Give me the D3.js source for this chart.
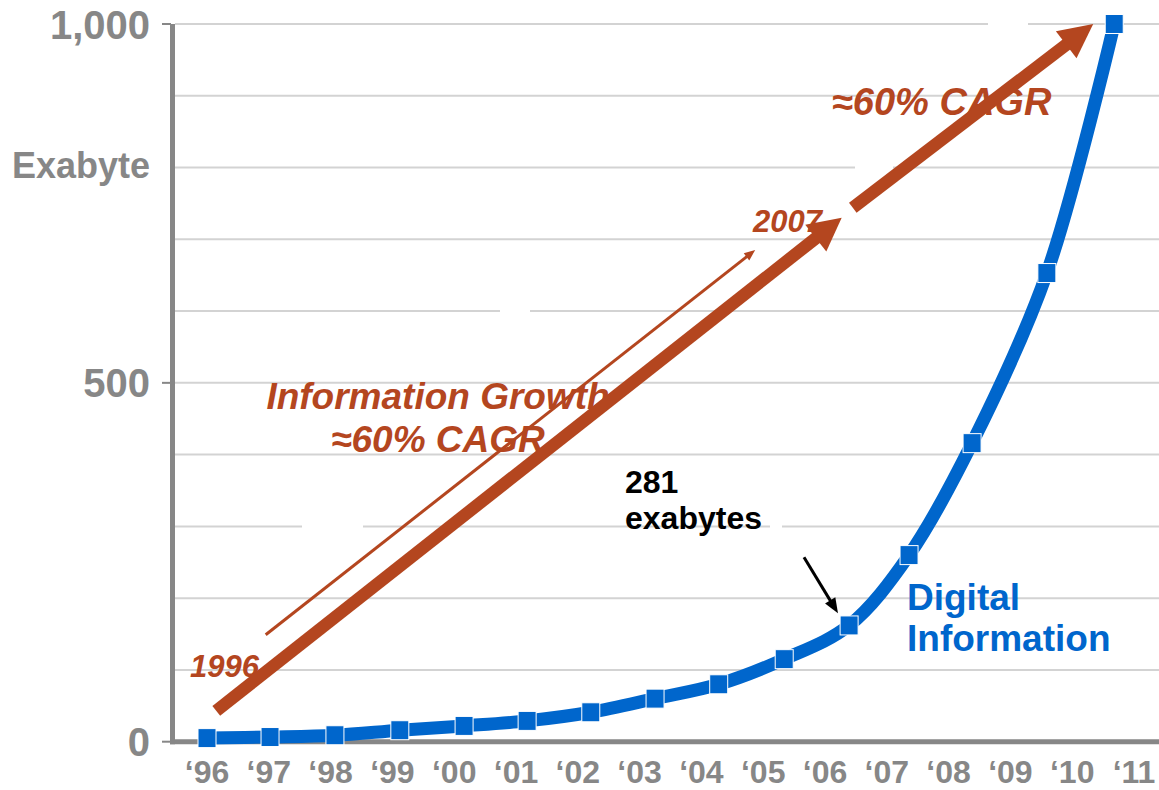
<!DOCTYPE html>
<html>
<head>
<meta charset="utf-8">
<script src="https://cdn.jsdelivr.net/npm/d3@7"></script>
<style>
  html, body { margin: 0; padding: 0; background: #fff; }
  svg { display: block; font-family: "Liberation Sans", Arial, sans-serif; }
</style>
</head>
<body>
<svg id="chart" width="1159" height="790"></svg>
<script>
// ---------- data ----------
const yearLabels = ["\u201896","\u201897","\u201898","\u201899","\u201800","\u201801","\u201802","\u201803","\u201804","\u201805","\u201806","\u201807","\u201808","\u201809","\u201810","\u201811"];
const axisYears = [1996, 2011];
const markerYears = [1996, 1997.02, 1998.07, 1999.12, 2000.16, 2001.18, 2002.21, 2003.25, 2004.28, 2005.34, 2006.39, 2007.36, 2008.38, 2009.59, 2010.68];
const exabytes = [5, 6.5, 9, 16, 22, 29, 41, 60, 80, 115, 162, 260, 416, 653, 1000];
const yTickValues = [0, 500, 1000];
const yTickLabels = ["0", "500", "1,000"];
const gridValues = [100, 200, 300, 400, 500, 600, 700, 800, 900, 1000];
const yDomain = [0, 1000];

// annotation arrows in data units: [x1, y1, x2, y2]
const growthArrowA = [1996.15, 43, 2006.27, 730];
const growthArrowB = [2006.45, 744, 2010.34, 1000];
const thinArrow = [1996.95, 149, 2004.87, 685];
const pointerArrow = [2005.66, 257, 2006.21, 179];

// ---------- scales ----------
const svg = d3.select("#chart");
const y = d3.scaleLinear().domain(yDomain).range([741.7, 24]);
const x = d3.scaleLinear().domain(axisYears).range([207, 1134]);
const xLab = d3.scalePoint().domain(yearLabels).range([207, 1134]);

const gray = "#878787";
const brown = "#B4461F";
const blue = "#0066CC";

// ---------- gridlines ----------
svg.append("g").selectAll("line").data(gridValues).join("line")
  .attr("x1", 175).attr("x2", 1159)
  .attr("y1", d => y(d)).attr("y2", d => y(d))
  .attr("stroke", "#d3d3d3").attr("stroke-width", 2);

// white text-box gaps over gridlines
const gaps = [[302, 363, 300], [855, 893, 800], [988, 1028, 1000], [770, 782, 300], [500, 530, 600]];
svg.append("g").selectAll("rect").data(gaps).join("rect")
  .attr("x", d => d[0]).attr("width", d => d[1] - d[0])
  .attr("y", d => y(d[2]) - 3).attr("height", 6).attr("fill", "#fff");

// ---------- axes ----------
svg.append("line").attr("x1", 172.5).attr("x2", 172.5)
  .attr("y1", y(1000)).attr("y2", y(0) + 2.5)
  .attr("stroke", gray).attr("stroke-width", 5);
svg.append("line").attr("x1", 170).attr("x2", 1159)
  .attr("y1", y(0)).attr("y2", y(0))
  .attr("stroke", gray).attr("stroke-width", 5);
svg.append("g").selectAll("line").data(yTickValues).join("line")
  .attr("x1", 162).attr("x2", 171)
  .attr("y1", d => y(d)).attr("y2", d => y(d))
  .attr("stroke", gray).attr("stroke-width", 2);

svg.append("g").selectAll("text").data(yTickValues).join("text")
  .attr("x", 150).attr("y", d => y(d) + 14.5)
  .attr("text-anchor", "end").attr("font-size", 40).attr("font-weight", "bold")
  .attr("fill", gray).text((d, i) => yTickLabels[i]);

svg.append("text").attr("x", 150).attr("y", 178)
  .attr("text-anchor", "end").attr("font-size", 36).attr("font-weight", "bold")
  .attr("fill", gray).text("Exabyte");

svg.append("g").selectAll("text").data(yearLabels).join("text")
  .attr("x", d => xLab(d)).attr("y", 783)
  .attr("text-anchor", "middle").attr("font-size", 32).attr("font-weight", "bold")
  .attr("fill", gray).text(d => d);

// ---------- annotation texts ----------
function label(t, px, py, size, color, italic, anchor) {
  svg.append("text").attr("x", px).attr("y", py)
    .attr("text-anchor", anchor || "start")
    .attr("font-size", size).attr("font-weight", "bold")
    .attr("font-style", italic ? "italic" : "normal")
    .attr("fill", color).text(t);
}
label("Information Growth", 438, 409, 37, brown, true, "middle");
label("\u224860% CAGR", 438, 452, 37, brown, true, "middle");
label("\u224860% CAGR", 832, 115, 38, brown, true);
label("1996", 190, 677, 31, brown, true);
label("2007", 753, 232, 31, brown, true);
label("281", 625, 493, 32, "#000", false);
label("exabytes", 625, 529, 32, "#000", false);
label("Digital", 907, 610, 37, blue, false);
label("Information", 907, 651, 37, blue, false);

// ---------- arrows ----------
function arrow(a, color, width, headLen, headWidth) {
  const x1 = x(a[0]), y1 = y(a[1]), x2 = x(a[2]), y2 = y(a[3]);
  const dx = x2 - x1, dy = y2 - y1, L = Math.hypot(dx, dy);
  const ux = dx / L, uy = dy / L, px = -uy, py = ux;
  const bx = x2 - ux * headLen, by = y2 - uy * headLen;
  svg.append("line").attr("x1", x1).attr("y1", y1)
    .attr("x2", bx + ux * 2).attr("y2", by + uy * 2)
    .attr("stroke", color).attr("stroke-width", width);
  svg.append("path")
    .attr("d", d3.line()([[x2, y2], [bx + px * headWidth / 2, by + py * headWidth / 2], [bx - px * headWidth / 2, by - py * headWidth / 2]]) + "Z")
    .attr("fill", color);
}
arrow(thinArrow, brown, 3, 11, 9);
arrow(growthArrowA, brown, 12.5, 33, 34);
arrow(growthArrowB, brown, 12.5, 34, 34);
arrow(pointerArrow, "#000", 3, 15, 12);

// ---------- digital information series ----------
const pts = markerYears.map((d, i) => [x(d), y(exabytes[i])]);
svg.append("path").datum(pts)
  .attr("d", d3.line().curve(d3.curveCatmullRom.alpha(0.5)))
  .attr("fill", "none").attr("stroke", blue).attr("stroke-width", 13);
svg.append("g").selectAll("rect").data(pts).join("rect")
  .attr("x", d => d[0] - 9).attr("y", d => d[1] - 9.5)
  .attr("width", 18).attr("height", 19)
  .attr("fill", blue).attr("stroke", "#fff").attr("stroke-width", 1);
</script>
</body>
</html>
